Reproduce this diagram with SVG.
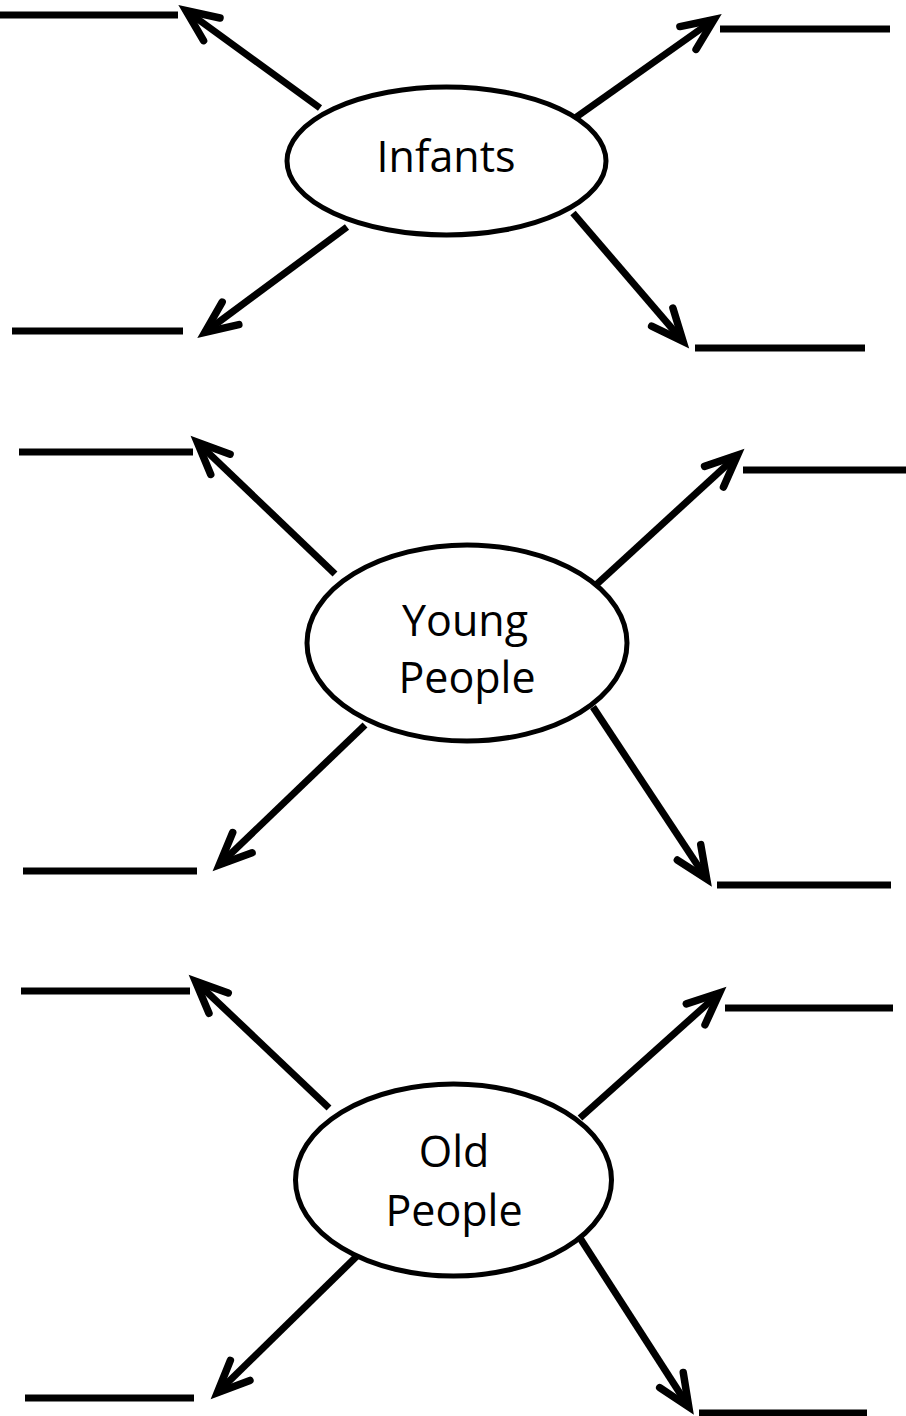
<svg xmlns="http://www.w3.org/2000/svg" width="906" height="1416" viewBox="0 0 906 1416">
<style>
.node ellipse{fill:#fff;stroke:#000;stroke-width:5}
.node text{font-family:"Open Sans","Liberation Sans",sans-serif;font-size:43px;fill:#000;text-anchor:middle}
.arrow{stroke:#000;stroke-width:7;fill:none;marker-end:url(#head)}
.blank{stroke:#000;stroke-width:7}
</style>
<defs>
<marker id="head" markerUnits="userSpaceOnUse" markerWidth="60" markerHeight="60" viewBox="-40 -20 60 40" refX="0" refY="0" orient="auto" overflow="visible">
<path d="M -32 -14 L 0 0 L -32 14" fill="none" stroke="#000" stroke-width="7.5" stroke-linecap="round" stroke-linejoin="miter"/>
</marker>
</defs>
<rect width="906" height="1416" fill="#fff"/>
<g id="connectors">
<line class="arrow" x1="320" y1="108" x2="185.9" y2="10.5"/>
<line class="arrow" x1="575" y1="118" x2="714.1" y2="19.5"/>
<line class="arrow" x1="347" y1="227" x2="204.8" y2="332.4"/>
<line class="arrow" x1="573" y1="213" x2="683.1" y2="341.4"/>
<line class="arrow" x1="335" y1="574" x2="197.3" y2="442.2"/>
<line class="arrow" x1="597" y1="584" x2="737.6" y2="455.1"/>
<line class="arrow" x1="365" y1="725" x2="219.3" y2="864.8"/>
<line class="arrow" x1="593" y1="707" x2="706.7" y2="879"/>
<line class="arrow" x1="329" y1="1108" x2="195.4" y2="981.1"/>
<line class="arrow" x1="580" y1="1118" x2="719.5" y2="993"/>
<line class="arrow" x1="358" y1="1255" x2="217.3" y2="1392.8"/>
<line class="arrow" x1="580" y1="1238" x2="688.8" y2="1407"/>
</g>
<g id="blanks">
<line class="blank" x1="0" y1="15" x2="178" y2="15"/>
<line class="blank" x1="720" y1="29" x2="890" y2="29"/>
<line class="blank" x1="12" y1="331" x2="183" y2="331"/>
<line class="blank" x1="695" y1="348" x2="865" y2="348"/>
<line class="blank" x1="19" y1="452" x2="193" y2="452"/>
<line class="blank" x1="743" y1="470" x2="906" y2="470"/>
<line class="blank" x1="23" y1="871" x2="197" y2="871"/>
<line class="blank" x1="717" y1="885" x2="891" y2="885"/>
<line class="blank" x1="21" y1="991" x2="190" y2="991"/>
<line class="blank" x1="725" y1="1008" x2="893" y2="1008"/>
<line class="blank" x1="25" y1="1398" x2="194" y2="1398"/>
<line class="blank" x1="699" y1="1413" x2="867" y2="1413"/>
</g>
<g id="infants" class="node">
<ellipse cx="446.5" cy="161" rx="159.5" ry="74"/>
<text x="446" y="172">Infants</text>
</g>
<g id="young-people" class="node">
<ellipse cx="467" cy="643" rx="160" ry="98"/>
<text x="465" y="636">Young</text>
<text x="467" y="693">People</text>
</g>
<g id="old-people" class="node">
<ellipse cx="453.5" cy="1180" rx="158" ry="96"/>
<text x="454" y="1167">Old</text>
<text x="454" y="1226">People</text>
</g>
</svg>
